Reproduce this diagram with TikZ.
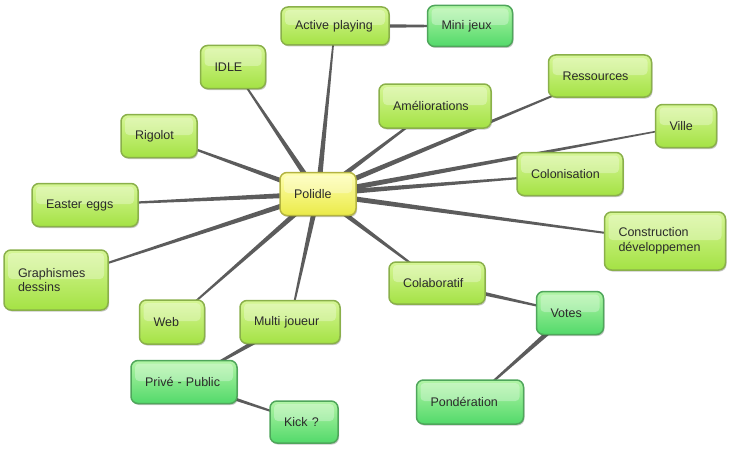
\documentclass[tikz,border=0pt]{standalone}
\usepackage{fontspec}
\setmainfont{Liberation Sans}
\usetikzlibrary{calc,backgrounds,shadows}
\definecolor{limeTop}{HTML}{D6F696}
\definecolor{limeBot}{HTML}{A4E244}
\definecolor{limeBorder}{HTML}{8AB04A}
\definecolor{greenTop}{HTML}{B2F5A6}
\definecolor{greenBot}{HTML}{52D96A}
\definecolor{greenBorder}{HTML}{4FA65B}
\definecolor{yelTop}{HTML}{FFFFB0}
\definecolor{yelBot}{HTML}{EAEA48}
\definecolor{yelBorder}{HTML}{B3B342}
\definecolor{connGray}{HTML}{5C5C5C}
\definecolor{txt}{HTML}{2B2B2B}
\newcommand\mmconn[3][2.8pt]{\fill[conn] ($(#2.center)!#1!90:(#3.center)$) -- ($(#3.center)!0.6pt!-90:(#2.center)$) -- ($(#3.center)!0.6pt!90:(#2.center)$) -- ($(#2.center)!#1!-90:(#3.center)$) -- cycle;}
\tikzset{
  conn/.style={fill=connGray},
  mmbox/.style={rounded corners=7pt, line width=1.5pt, align=left, inner xsep=14pt, inner ysep=2pt,
    font=\fontsize{12.5}{14.5}\selectfont, text=txt,
    drop shadow={shadow xshift=1pt, shadow yshift=-1.5pt, fill=black, opacity=0.22},
    path picture={\fill[white, opacity=0.3, rounded corners=4pt]
      ([xshift=4pt,yshift=-3pt]path picture bounding box.north west) rectangle
      ([xshift=-4pt,yshift=1pt]path picture bounding box.east);}},
  lime/.style={mmbox, draw=limeBorder, top color=limeTop, bottom color=limeBot},
  grn/.style={mmbox, draw=greenBorder, top color=greenTop, bottom color=greenBot},
  yel/.style={mmbox, draw=yelBorder, top color=yelTop, bottom color=yelBot},
}
\begin{document}
\begin{tikzpicture}[x=1pt,y=-1pt]
\useasboundingbox (0,0) rectangle (733,452);
\node[yel, text width=48pt, minimum height=43pt] (pol) at (318,194) {Polidle};
\node[lime, text width=80pt, minimum height=38pt] (act) at (335,26) {Active playing};
\node[grn, text width=57pt, minimum height=41pt] (mini) at (470,26) {Mini jeux};
\node[lime, text width=37pt, minimum height=43pt] (idle) at (233,67) {IDLE};
\node[lime, text width=84pt, minimum height=44pt] (amel) at (435,106) {Améliorations};
\node[lime, text width=75pt, minimum height=42pt] (res) at (600,76) {Ressources};
\node[lime, text width=33pt, minimum height=43pt] (ville) at (686,126) {Ville};
\node[lime, text width=48pt, minimum height=43pt] (rig) at (159,136) {Rigolot};
\node[lime, text width=78pt, minimum height=43pt] (colo) at (570,174) {Colonisation};
\node[lime, text width=78pt, minimum height=43pt] (east) at (85,205) {Easter eggs};
\node[lime, text width=93pt, minimum height=58pt] (cons) at (665,241) {Construction\\développemen};
\node[lime, text width=76pt, minimum height=60pt] (graph) at (56,280) {Graphismes\\dessins};
\node[lime, text width=68pt, minimum height=42pt] (colab) at (437,283) {Colaboratif};
\node[grn, text width=39pt, minimum height=43pt] (votes) at (570,313) {Votes};
\node[lime, text width=37pt, minimum height=44pt] (web) at (172,322) {Web};
\node[lime, text width=72pt, minimum height=43pt] (multi) at (290,322) {Multi joueur};
\node[grn, text width=78pt, minimum height=43pt] (prive) at (184,382) {Privé - Public};
\node[grn, text width=40pt, minimum height=42pt] (kick) at (304,422) {Kick ?};
\node[grn, text width=79pt, minimum height=44pt] (pond) at (470,402) {Pondération};
\begin{scope}[on background layer]
\fill[white] (0,0) rectangle (733,452);
\mmconn{pol}{act}
\mmconn[2.5pt]{act}{mini}
\mmconn{pol}{idle}
\mmconn{pol}{amel}
\mmconn{pol}{res}
\mmconn{pol}{ville}
\mmconn{pol}{rig}
\mmconn{pol}{colo}
\mmconn{pol}{east}
\mmconn{pol}{cons}
\mmconn{pol}{graph}
\mmconn{pol}{colab}
\mmconn{pol}{web}
\mmconn{pol}{multi}
\mmconn[2.5pt]{colab}{votes}
\mmconn[2.8pt]{votes}{pond}
\mmconn[2.8pt]{multi}{prive}
\mmconn[2.2pt]{prive}{kick}
\end{scope}
\end{tikzpicture}
\end{document}
